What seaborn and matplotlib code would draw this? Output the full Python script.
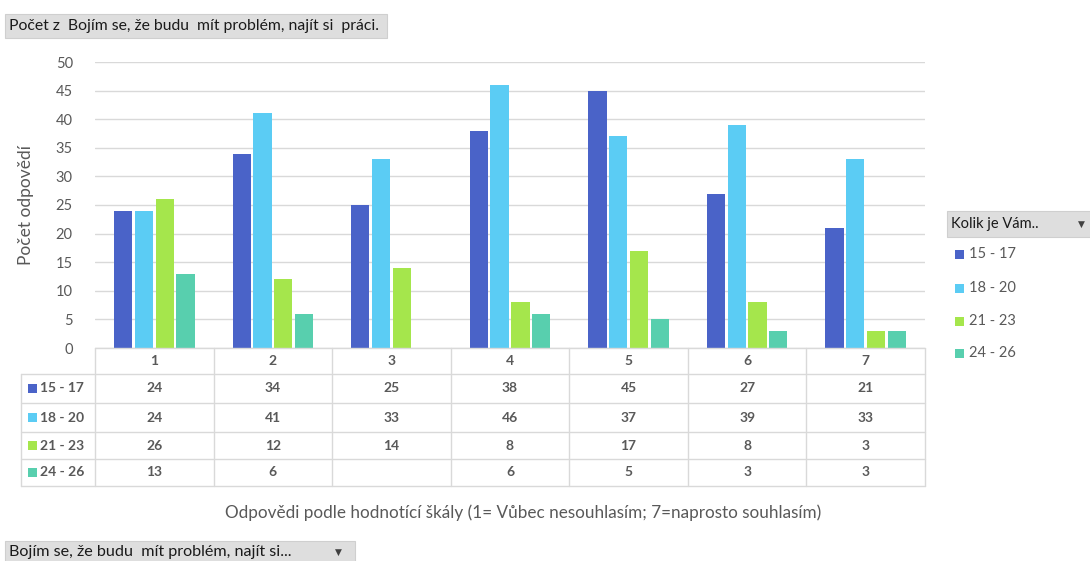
import matplotlib
matplotlib.use("Agg")
import matplotlib.pyplot as plt
import matplotlib.transforms as mtransforms
from matplotlib.patches import Rectangle
from matplotlib.lines import Line2D
import seaborn as sns
import pandas as pd
import numpy as np

# ---- data ----
categories = ["1", "2", "3", "4", "5", "6", "7"]
groups = ["15 - 17", "18 - 20", "21 - 23", "24 - 26"]
v_15_17 = [24, 34, 25, 38, 45, 27, 21]
v_18_20 = [24, 41, 33, 46, 37, 39, 33]
v_21_23 = [26, 12, 14, 8, 17, 8, 3]
v_24_26 = [13, 6, None, 6, 5, 3, 3]
series = [v_15_17, v_18_20, v_21_23, v_24_26]
colors = ["#4A63C8", "#5BCCF4", "#A5E64C", "#58CFAE"]

title_txt = "Počet z  Bojím se, že budu  mít problém, najít si  práci."
bottom_txt = "Bojím se, že budu  mít problém, najít si..."
legend_title = "Kolik je Vám.."
ylabel = "Počet odpovědí"
xlabel = "Odpovědi podle hodnotící škály (1= Vůbec nesouhlasím; 7=naprosto souhlasím)"

rows = []
for g, vals in zip(groups, series):
    for c, v in zip(categories, vals):
        rows.append({"cat": c, "group": g, "val": np.nan if v is None else v})
df = pd.DataFrame(rows)

sns.set_theme(style="white")
plt.rcParams["font.family"] = ["Lato", "DejaVu Sans"]
TXT = "#595959"
GRID = "#D9D9D9"

W, H = 1090, 561
fig = plt.figure(figsize=(W / 100, H / 100), dpi=100)

def fx(px):
    return px / W

def fy(py):
    return 1 - py / H

ax_l, ax_r, ax_t, ax_b = 95, 925, 62, 348
ax = fig.add_axes([fx(ax_l), fy(ax_b), fx(ax_r - ax_l), (ax_b - ax_t) / H])

sns.barplot(data=df, x="cat", y="val", hue="group", hue_order=groups,
            order=categories, palette=colors, width=0.7, gap=0.12,
            saturation=1, legend=False, ax=ax, errorbar=None, linewidth=0)

ax.set_xlim(-0.5, len(categories) - 0.5)
ax.set_ylim(0, 50)
ax.set_yticks(range(0, 51, 5))
ax.yaxis.grid(True, color=GRID, linewidth=1)
ax.set_axisbelow(True)
for s in ax.spines.values():
    s.set_visible(False)
ax.set_xticks([])
ax.set_xlabel("")
ax.set_ylabel("")
ax.tick_params(axis="y", length=0, pad=16, labelsize=10.5, labelcolor=TXT)

# y label
fig.text(fx(26), fy(205), ylabel, rotation=90, ha="center", va="center",
         fontsize=12.5, color=TXT)

# ---- data table ----
row_lines = [374, 403, 432, 459, 486]
bt = mtransforms.blended_transform_factory(ax.transData, fig.transFigure)
for i in range(len(categories) + 1):
    ax.add_line(Line2D([i - 0.5, i - 0.5], [fy(ax_b), fy(486)], transform=bt,
                       color=GRID, lw=1, clip_on=False))
fig.add_artist(Line2D([fx(ax_l), fx(ax_r)], [fy(ax_b), fy(ax_b)], color=GRID, lw=1))
for ry in row_lines:
    fig.add_artist(Line2D([fx(21), fx(ax_r)], [fy(ry), fy(ry)], color=GRID, lw=1))
fig.add_artist(Line2D([fx(21), fx(21)], [fy(374), fy(486)], color=GRID, lw=1))

for i, c in enumerate(categories):
    ax.text(i, fy((ax_b + 374) / 2), c, transform=bt, ha="center", va="center",
            fontsize=10, color=TXT, fontweight="bold")
for r, (g, vals, col) in enumerate(zip(groups, series, colors)):
    yc = fy((row_lines[r] + row_lines[r + 1]) / 2)
    fig.add_artist(Rectangle((fx(28), yc - 4.5 / H), fx(9), 9 / H,
                             facecolor=col, edgecolor="none"))
    fig.text(fx(40), yc, g, ha="left", va="center", fontsize=10, color=TXT,
             fontweight="bold")
    for i, v in enumerate(vals):
        if v is not None:
            ax.text(i, yc, str(v), transform=bt, ha="center", va="center",
                    fontsize=10, color=TXT, fontweight="bold")

fig.text(fx(523), fy(513), xlabel, ha="center", va="center", fontsize=12.3, color=TXT)

# ---- pivot buttons ----
def button(x0, y0, x1, y1, text, size, arrow_x=None):
    fig.add_artist(Rectangle((fx(x0), fy(y1)), fx(x1 - x0), (y1 - y0) / H,
                             facecolor="#DEDEDE", edgecolor="#CFCFCF", lw=0.8))
    fig.text(fx(x0 + 4), fy((y0 + y1) / 2), text, ha="left", va="center",
             fontsize=size, color="#1a1a1a")
    if arrow_x is not None:
        fig.text(fx(arrow_x), fy((y0 + y1) / 2), "▼", ha="center", va="center",
                 fontsize=6.5, color="#404040", family="DejaVu Sans")

button(5, 14, 387, 38, title_txt, 11.3)
button(5, 541, 355, 563, bottom_txt, 11.6, arrow_x=338)
button(947, 211, 1092, 237, legend_title, 10.5, arrow_x=1081)

leg_y = [254, 288, 321, 353]
for g, col, ly in zip(groups, colors, leg_y):
    fig.add_artist(Rectangle((fx(955), fy(ly) - 4.5 / H), fx(9), 9 / H,
                             facecolor=col, edgecolor="none"))
    fig.text(fx(969), fy(ly), g, ha="left", va="center", fontsize=10.5, color=TXT)

fig.savefig("out.png", dpi=100)
